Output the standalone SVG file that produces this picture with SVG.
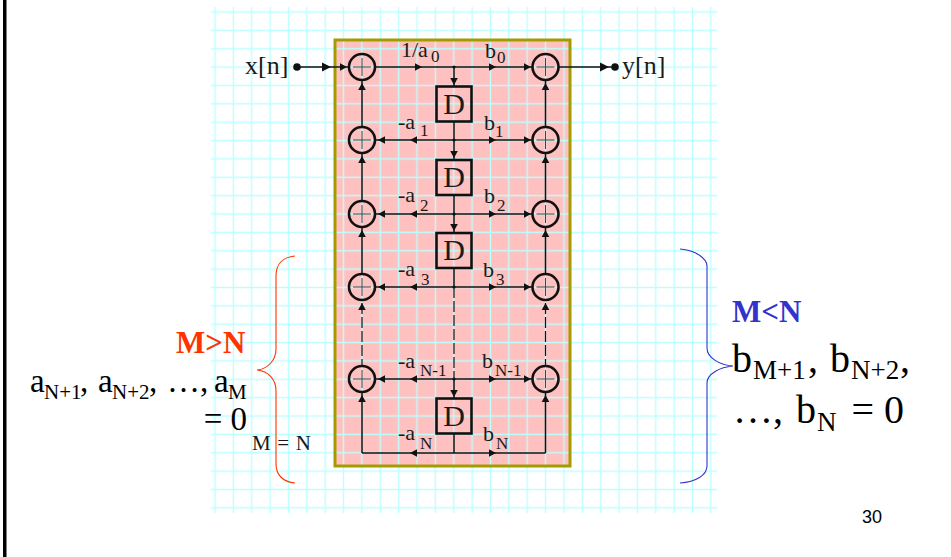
<svg xmlns="http://www.w3.org/2000/svg" width="951" height="557" viewBox="0 0 951 557">
<style>
text{font-family:"Liberation Serif","Times New Roman",serif;fill:#1a1a1a}
.l{font-size:22px}.s{font-size:17px}
.w{fill:none;stroke:#111;stroke-width:1.5}
.d{stroke-dasharray:11 3;stroke-width:1.2}
.c{fill:none;stroke:#111;stroke-width:2.6}
.x{stroke:#444;stroke-width:1;fill:none}
.b{fill:none;stroke:#111;stroke-width:2.6}
.big{font-size:40px;fill:#000}
.mid{font-size:33px;fill:#000}
.subm{font-size:21px;fill:#000}
.subb{font-size:27px;fill:#000}
</style>
<defs>
<pattern id="g" patternUnits="userSpaceOnUse" x="205.82" y="2.82" width="18.365" height="18.365"><path d="M9.18 0V18.365M0 9.18H18.365" stroke="#bcffff" stroke-width="1.4" fill="none"/></pattern>
<polygon id="a" points="0,0 -7,-3.8 -7,3.8" fill="#111"/>
<polygon id="A" points="0,0 -9,-4.6 -9,4.6" fill="#111"/>
<g id="sum"><circle r="13" class="c"/><path class="x" d="M-9 0H9M0 -9V9"/></g>
<g id="del"><rect x="-17.5" y="-17.5" width="35" height="35" class="b"/><text y="9.5" text-anchor="middle" style="font-size:30px">D</text></g>
</defs>
<rect id="bar" x="3" y="0" width="3.5" height="557" fill="#000"/>
<rect id="panel" x="335" y="40" width="235" height="426" fill="#ffc0c0"/>
<rect id="grid" x="211" y="7" width="506" height="506" fill="url(#g)"/>
<rect id="frame" x="335" y="40" width="235" height="426" fill="none" stroke="#a39c00" stroke-width="3"/>
<g id="connectors">
<path class="w" d="M297 67H349M375 67H532M558 67H615M454 67V86M375 140H532M454 122V159M375 214H532M454 196V232M375 287H532M454 269V287M375 379H532M454 379V398M362 127V80M545.500 127V80M362 201V153M545.500 201V153M362 274V227M545.500 274V227M362 453V392M545.500 453V392M362 453H545.500M454 434V453"/>
<path class="w d" d="M454 287V379M362 303V366M545.500 303V366"/>
<g id="heads">
<use href="#A" x="331" y="67"/><use href="#a" x="347" y="67"/><use href="#a" x="422" y="67"/><use href="#a" x="496" y="67"/><use href="#a" x="531" y="67"/><use href="#A" x="609" y="67"/>
<use href="#a" transform="translate(454 85) rotate(90)"/><use href="#a" transform="translate(454 158) rotate(90)"/><use href="#a" transform="translate(454 231) rotate(90)"/><use href="#a" transform="translate(454 397) rotate(90)"/>
<use href="#a" transform="translate(362 83) rotate(-90)"/><use href="#a" transform="translate(545.500 83) rotate(-90)"/><use href="#a" transform="translate(362 156) rotate(-90)"/><use href="#a" transform="translate(545.500 156) rotate(-90)"/><use href="#a" transform="translate(362 230) rotate(-90)"/><use href="#a" transform="translate(545.500 230) rotate(-90)"/><use href="#a" transform="translate(362 303) rotate(-90)"/><use href="#a" transform="translate(545.500 303) rotate(-90)"/><use href="#a" transform="translate(362 395) rotate(-90)"/><use href="#a" transform="translate(545.500 395) rotate(-90)"/>
<use href="#a" transform="translate(378 140) rotate(180)"/><use href="#a" transform="translate(410 140) rotate(180)"/><use href="#a" x="496" y="140"/><use href="#a" x="531" y="140"/>
<use href="#a" transform="translate(378 214) rotate(180)"/><use href="#a" transform="translate(410 214) rotate(180)"/><use href="#a" x="496" y="214"/><use href="#a" x="531" y="214"/>
<use href="#a" transform="translate(378 287) rotate(180)"/><use href="#a" transform="translate(410 287) rotate(180)"/><use href="#a" x="496" y="287"/><use href="#a" x="531" y="287"/>
<use href="#a" transform="translate(378 379) rotate(180)"/><use href="#a" transform="translate(410 379) rotate(180)"/><use href="#a" x="496" y="379"/><use href="#a" x="531" y="379"/>
<use href="#a" transform="translate(410 453) rotate(180)"/><use href="#a" x="496" y="453"/>
</g>
<g fill="#111"><circle cx="297" cy="67" r="3.8"/><circle cx="615" cy="67" r="3.8"/><circle cx="454" cy="67" r="1.6"/><circle cx="454" cy="140" r="1.6"/><circle cx="454" cy="214" r="1.6"/><circle cx="454" cy="287" r="1.6"/><circle cx="454" cy="379" r="1.6"/></g>
</g>
<g id="adders">
<use id="sum-l0" href="#sum" x="362" y="67"/><use id="sum-r0" href="#sum" x="545.500" y="67"/>
<use id="sum-l1" href="#sum" x="362" y="140"/><use id="sum-r1" href="#sum" x="545.500" y="140"/>
<use id="sum-l2" href="#sum" x="362" y="214"/><use id="sum-r2" href="#sum" x="545.500" y="214"/>
<use id="sum-l3" href="#sum" x="362" y="287"/><use id="sum-r3" href="#sum" x="545.500" y="287"/>
<use id="sum-l4" href="#sum" x="362" y="379"/><use id="sum-r4" href="#sum" x="545.500" y="379"/>
</g>
<g id="delays">
<use id="d1" href="#del" x="454" y="104"/><use id="d2" href="#del" x="454" y="177.500"/><use id="d3" href="#del" x="454" y="250.500"/><use id="d4" href="#del" x="454" y="416"/>
</g>
<g id="labels">
<text x="245" y="74" style="font-size:26px">x[n]</text>
<text x="622" y="74" style="font-size:26px">y[n]</text>
<text x="401" y="57" class="l">1/a</text><text x="431" y="62" class="s">0</text>
<text x="485" y="58" class="l">b</text><text x="497" y="63" class="s">0</text>
<text x="398" y="129" class="l">-a</text><text x="420" y="136" class="s">1</text>
<text x="484" y="130" class="l">b</text><text x="495" y="137" class="s">1</text>
<text x="398" y="202" class="l">-a</text><text x="420" y="211" class="s">2</text>
<text x="484" y="203" class="l">b</text><text x="497" y="211" class="s">2</text>
<text x="398" y="276" class="l">-a</text><text x="421" y="285" class="s">3</text>
<text x="483" y="277" class="l">b</text><text x="496" y="285" class="s">3</text>
<text x="398" y="368" class="l">-a</text><text x="420" y="376" class="s">N-1</text>
<text x="482" y="368" class="l">b</text><text x="495" y="376" class="s">N-1</text>
<text x="398" y="440" class="l">-a</text><text x="420" y="449" class="s">N</text>
<text x="483" y="441" class="l">b</text><text x="496" y="449" class="s">N</text>
<text x="252" y="450" style="font-size:21px" textLength="59">M = N</text>
</g>
<g id="brace-left">
<path d="M295 256C283 257 276 264 276 276V349C276 360 268 369 257 370C268 371 276 379 276 391V464C276 475 283 482 295 483" fill="none" stroke="#ff3300" stroke-width="1.1"/>
<text x="176" y="353" style="font-size:31px;font-weight:bold;fill:#ff3300">M&gt;N</text>
<text x="30" y="392" class="mid">a</text><text x="44" y="399" class="subm">N+1</text><text x="80" y="392" class="mid">,</text>
<text x="98" y="392" class="mid">a</text><text x="112" y="399" class="subm">N+2</text><text x="149" y="392" class="mid">,</text>
<text x="167" y="392" class="mid">…,</text>
<text x="214" y="392" class="mid">a</text><text x="228" y="399" class="subm">M</text>
<text x="247" y="430" class="mid" text-anchor="end">= 0</text>
</g>
<g id="brace-right">
<path d="M680 249C696 250 707 259 707 266V348C707 358 720 365 733 366C720 367 707 374 707 383V466C707 475 696 482 680 483" fill="none" stroke="#3333cc" stroke-width="1.1"/>
<text x="732" y="322" style="font-size:31px;font-weight:bold;fill:#3333cc">M&lt;N</text>
<text x="732" y="372" class="big">b</text><text x="753" y="379" class="subb">M+1</text><text x="808" y="372" class="big">,</text>
<text x="830" y="372" class="big">b</text><text x="851" y="379" class="subb">N+2</text><text x="900" y="372" class="big">,</text>
<text x="733" y="423" class="big">…,</text>
<text x="796" y="423" class="big">b</text><text x="817" y="431" class="subb">N</text>
<text x="904" y="423" class="big" text-anchor="end">= 0</text>
</g>
<text id="page" x="862" y="523" style="font-family:'Liberation Sans',Arial,sans-serif;font-size:18px;fill:#000">30</text>
</svg>
